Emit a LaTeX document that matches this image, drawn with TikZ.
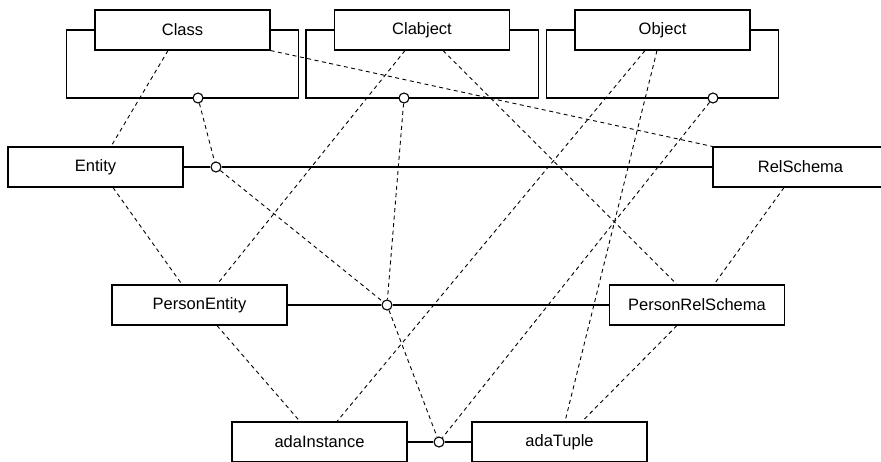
\documentclass[tikz,border=0pt]{standalone}
\usepackage{fontspec}
\setmainfont{Liberation Sans}
\usetikzlibrary{calc}
\tikzset{
  clsbox/.style={rectangle, draw=black, fill=white, line width=1.1pt,
                 minimum width=175pt, minimum height=40pt, inner sep=0pt,
                 font=\fontsize{16.5}{19}\selectfont},
  solidlink/.style={draw=black, line width=1.1pt},
  instlink/.style={draw=black, line width=0.9pt, dash pattern=on 4pt off 3.5pt},
  assoc/.style={circle, draw=black, fill=white, line width=1.1pt,
                minimum size=10pt, inner sep=0pt},
}

\begin{document}
\begin{tikzpicture}[x=1pt, y=-1pt]
    \useasboundingbox (0,0) rectangle (881,461);

    % meta level
    \node[clsbox] (Class)    at (182.5,30) {Class};
    \node[clsbox] (Clabject) at (422,30)   {Clabject};
    \node[clsbox] (Object)   at (662.5,30) {Object};

    % model level
    \node[clsbox] (Entity)    at (95.5,167)  {Entity};
    \node[clsbox] (RelSchema) at (800.5,167) {RelSchema};
    \node[clsbox] (PersonEntity)    at (199.5,305) {PersonEntity};
    \node[clsbox] (PersonRelSchema) at (697,305)   {PersonRelSchema};

    % instance level
    \node[clsbox] (adaInstance) at (319.5,442) {adaInstance};
    \node[clsbox] (adaTuple)    at (559.5,442) {adaTuple};

    % self associations of the meta classes
    \foreach \b in {Class,Clabject,Object}
      \draw[solidlink] (\b.west) -- ++(-28,0) -- ++(0,68) -| ($(\b.east)+(28,0)$) -- (\b.east);

    \node[assoc] (oClass)    at (198,98)  {};
    \node[assoc] (oClabject) at (404,98)  {};
    \node[assoc] (oObject)   at (713,98)  {};
    \node[assoc] (oEntity)   at (216,167) {};
    \node[assoc] (oPerson)   at (387,305) {};
    \node[assoc] (oAda)      at (439,442) {};

    \draw[solidlink] (Entity.east) -- (oEntity) -- (RelSchema.west);
    \draw[solidlink] (PersonEntity.east) -- (oPerson) -- (PersonRelSchema.west);
    \draw[solidlink] (adaInstance.east) -- (oAda) -- (adaTuple.west);

    % instance-of links
    \draw[instlink] ([xshift=-14.5pt]Class.south) -- ([xshift=15.5pt]Entity.north);
    \draw[instlink] (Class.south east) -- (RelSchema.north west);
    \draw[instlink] (oClass) -- (oEntity);
    \draw[instlink] ([xshift=-17pt]Clabject.south) -- ([xshift=17.5pt]PersonEntity.north);
    \draw[instlink] (oClabject) -- (oPerson);
    \draw[instlink] ([xshift=21pt]Clabject.south) -- ([xshift=-20pt]PersonRelSchema.north);
    \draw[instlink] ([xshift=-17.5pt]Object.south) -- ([xshift=17.5pt]adaInstance.north);
    \draw[instlink] ([xshift=-5.5pt]Object.south) -- ([xshift=5.5pt]adaTuple.north);
    \draw[instlink] (oObject) -- (oAda);
    \draw[instlink] ([xshift=17.5pt]Entity.south) -- ([xshift=-17.5pt]PersonEntity.north);
    \draw[instlink] ([xshift=-16.5pt]RelSchema.south) -- ([xshift=17pt]PersonRelSchema.north);
    \draw[instlink] (oEntity) -- (oPerson);
    \draw[instlink] ([xshift=17.5pt]PersonEntity.south) -- ([xshift=-19.5pt]adaInstance.north);
    \draw[instlink] ([xshift=-20pt]PersonRelSchema.south) -- ([xshift=22.5pt]adaTuple.north);
    \draw[instlink] (oPerson) -- (oAda);
\end{tikzpicture}
\end{document}
